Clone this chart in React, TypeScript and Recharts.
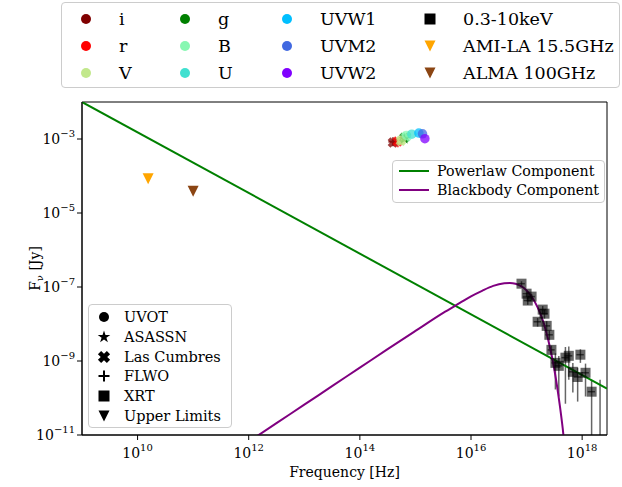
import React from "react";
import {
  ComposedChart,
  Line,
  Scatter,
  XAxis,
  YAxis,
  ErrorBar,
  ReferenceArea,
} from "recharts";

const FONT = "'DejaVu Serif', 'Liberation Serif', serif";

// axis ranges and ticks
const X_DOMAIN: [number, number] = [1e9, 2.8e18];
const Y_DOMAIN: [number, number] = [1e-11, 1e-2];
const X_TICKS = [1e10, 1e12, 1e14, 1e16, 1e18];
const Y_TICKS = [1e-11, 1e-9, 1e-7, 1e-5, 1e-3];

// photometric bands
const BANDS = ["i", "r", "V", "g", "B", "U", "UVW1", "UVM2", "UVW2"];
const BAND_COLORS = [
  "#800000", "#ff0000", "#c2e88c", "#008000", "#88f7b2",
  "#40e0d0", "#00bfff", "#4169e1", "#8000ff",
];

// Las Cumbres
const LCO_BANDS = ["i", "r", "V", "g", "B"];
const LCO_NU = [3.93e14, 4.8e14, 5.45e14, 6.3e14, 6.8e14];
const LCO_FLUX = [8.0e-4, 8.6e-4, 8.9e-4, 1.08e-3, 1.15e-3];

// FLWO
const FLWO_BANDS = ["i", "r"];
const FLWO_NU = [3.93e14, 4.8e14];
const FLWO_FLUX = [8.4e-4, 7.9e-4];

// ASASSN
const ASASSN_BANDS = ["g"];
const ASASSN_NU = [6.3e14];
const ASASSN_FLUX = [1.0e-3];

// Swift UVOT
const UVOT_BANDS = ["V", "B", "U", "UVW1", "UVM2", "UVW2"];
const UVOT_NU = [5.55e14, 6.9e14, 8.6e14, 1.15e15, 1.34e15, 1.48e15];
const UVOT_FLUX = [9.2e-4, 1.25e-3, 1.35e-3, 1.45e-3, 1.38e-3, 1.02e-3];

// Swift XRT 0.3-10 keV
const XRT_NU = [
  8.1e16, 1.0e17, 1.23e17, 1.05e17, 1.95e17, 2.1e17, 1.58e17, 2.3e17, 2.57e17, 2.8e17,
  3.3e17, 3.8e17, 5.0e17, 5.75e17, 9.3e17, 6.8e17, 8.3e17, 1.15e18, 1.48e18, 2.1e18,
];
const XRT_NU_ERR = [
  1.2e16, 1.5e16, 1.8e16, 1.6e16, 3e16, 3e16, 2.4e16, 3.5e16, 4e16, 4e16,
  5e16, 6e16, 7.5e16, 9e16, 1.4e17, 1e17, 1.2e17, 1.7e17, 2.2e17, 0,
];
const XRT_FLUX = [
  1.23e-7, 6.6e-8, 5.5e-8, 4.3e-8, 2.45e-8, 1.9e-8, 1.15e-8, 8.9e-9, 5.1e-9, 2.0e-9,
  8.9e-10, 7.4e-10, 1.23e-9, 1.38e-9, 1.48e-9, 5.1e-10, 3.7e-10, 4.8e-10, 1.48e-10, 6e-12,
];
const XRT_FLUX_ERR = [
  2e-8, 1.2e-8, 1e-8, 1e-8, 6e-9, 5e-9, 3e-9, 3e-9, 1.5e-9, 6e-10,
  7.2e-10, 6.3e-10, 1.16e-9, 1.07e-9, 5.9e-10, 3.7e-10, 2.9e-10, 3.7e-10, 1.6e-10, 3.05e-10,
];

// radio upper limits
const AMI_NU = [1.55e10];
const AMI_FLUX = [8.4e-5];
const ALMA_NU = [1e11];
const ALMA_FLUX = [3.85e-5];

// model components
const PL_NU = [1e9, 2.8e18];
const PL_FLUX = [1.0e-2, 1.8e-10];
const BB_NU = [
  1e12, 3.16e12, 1e13, 3.16e13, 1e14, 3.16e14, 1e15, 3.16e15, 6.3e15, 1e16, 1.58e16, 2.51e16,
  3.98e16, 5.0e16, 6.3e16, 1e17, 1.58e17, 2.0e17, 2.51e17, 3.16e17, 3.98e17, 4.47e17, 5.0e17,
];
const BB_FLUX = [
  6.6e-12, 2.09e-11, 6.6e-11, 2.09e-10, 6.6e-10, 2.09e-9, 6.5e-9, 2.0e-8, 3.7e-8, 5.6e-8, 7.9e-8,
  1.07e-7, 1.26e-7, 1.29e-7, 1.23e-7, 8.1e-8, 2.8e-8, 1.15e-8, 3.2e-9, 5.9e-10, 6.0e-11, 1.5e-11,
  3.1e-12,
];

const bandColor = (b: string) => BAND_COLORS[BANDS.indexOf(b)];
const phot = (bands: string[], nu: number[], flux: number[]) =>
  bands.map((b, i) => ({ nu: nu[i], f: flux[i], color: bandColor(b) }));

const lcoData = phot(LCO_BANDS, LCO_NU, LCO_FLUX);
const flwoData = phot(FLWO_BANDS, FLWO_NU, FLWO_FLUX);
const asassnData = phot(ASASSN_BANDS, ASASSN_NU, ASASSN_FLUX);
const uvotData = phot(UVOT_BANDS, UVOT_NU, UVOT_FLUX);

const xrtData = XRT_NU.map((nu, i) => {
  const f = XRT_FLUX[i];
  const lo = Math.max(f - XRT_FLUX_ERR[i], Y_DOMAIN[0]);
  return {
    nu,
    f,
    color: "#000",
    yErr: [f - lo, XRT_FLUX_ERR[i]],
    xErr: [XRT_NU_ERR[i], XRT_NU_ERR[i]],
  };
});

const amiData = AMI_NU.map((nu, i) => ({ nu, f: AMI_FLUX[i], color: "#ffa500" }));
const almaData = ALMA_NU.map((nu, i) => ({ nu, f: ALMA_FLUX[i], color: "#8b4513" }));
const plData = PL_NU.map((nu, i) => ({ nu, f: PL_FLUX[i] }));
const bbData = BB_NU.map((nu, i) => ({ nu, f: BB_FLUX[i] }));

type Kind = "circle" | "star" | "x" | "plus" | "square" | "tri";

function Marker({ kind, cx, cy, color, size, alpha = 1 }: any) {
  const h = size / 2;
  const paint = { fill: color, fillOpacity: alpha, stroke: "none" };
  if (kind === "circle") return <circle cx={cx} cy={cy} r={h} {...paint} />;
  if (kind === "square")
    return <rect x={cx - h} y={cy - h} width={size} height={size} {...paint} />;
  if (kind === "tri")
    return (
      <polygon
        points={`${cx - h},${cy - h} ${cx + h},${cy - h} ${cx},${cy + h}`}
        {...paint}
      />
    );
  if (kind === "plus")
    return (
      <path
        d={`M${cx - h},${cy}H${cx + h}M${cx},${cy - h}V${cy + h}`}
        stroke={color}
        strokeOpacity={alpha}
        strokeWidth={2}
        fill="none"
      />
    );
  if (kind === "star") {
    const R = h * 1.2;
    const r = R * 0.382;
    const pts = [];
    for (let k = 0; k < 10; k++) {
      const a = ((-90 + k * 36) * Math.PI) / 180;
      const rr = k % 2 === 0 ? R : r;
      pts.push(`${cx + rr * Math.cos(a)},${cy + rr * Math.sin(a)}`);
    }
    return <polygon points={pts.join(" ")} {...paint} />;
  }
  // filled X
  const L = h * 1.15;
  const w = L * 0.36;
  const plus = [
    [-w, -L], [w, -L], [w, -w], [L, -w], [L, w], [w, w],
    [w, L], [-w, L], [-w, w], [-L, w], [-L, -w], [-w, -w],
  ];
  const pts = plus.map(([px, py]) => {
    const rx = (px - py) / Math.SQRT2;
    const ry = (px + py) / Math.SQRT2;
    return `${cx + rx},${cy + ry}`;
  });
  return <polygon points={pts.join(" ")} {...paint} />;
}

const shapeOf = (kind: Kind, size: number, alpha: number) => (p: any) => (
  <Marker
    kind={kind}
    cx={p.cx}
    cy={p.cy}
    color={(p.payload && p.payload.color) || p.color}
    size={size}
    alpha={alpha}
  />
);

const expText = (v: number) => {
  const e = Math.round(Math.log10(v));
  return e < 0 ? "\u2212" + Math.abs(e) : String(e);
};

const XTick = (props: any) => {
  const { x, y, payload } = props;
  return (
    <text x={x} y={y + 16} textAnchor="middle" fontFamily={FONT} fontSize={14} fill="#000">
      10
      <tspan dy={-7} fontSize={10}>
        {expText(payload.value)}
      </tspan>
    </text>
  );
};

const YTick = (props: any) => {
  const { x, y, payload } = props;
  return (
    <text x={x} y={y + 5} textAnchor="end" fontFamily={FONT} fontSize={14} fill="#000">
      10
      <tspan dy={-7} fontSize={10}>
        {expText(payload.value)}
      </tspan>
    </text>
  );
};

const XLabel = (props: any) => {
  const vb = props.viewBox;
  return (
    <text
      x={vb.x + vb.width / 2}
      y={vb.y + 42}
      textAnchor="middle"
      fontFamily={FONT}
      fontSize={14}
      fill="#000"
    >
      Frequency [Hz]
    </text>
  );
};

const YLabel = (props: any) => {
  const vb = props.viewBox;
  const cx = vb.x + 40;
  const cy = vb.y + vb.height / 2;
  return (
    <text
      transform={`translate(${cx},${cy}) rotate(-90)`}
      textAnchor="middle"
      fontFamily={FONT}
      fontSize={14}
      fill="#000"
    >
      F
      <tspan dy={3} fontSize={10}>
        ν
      </tspan>
      <tspan dy={-3}> [Jy]</tspan>
    </text>
  );
};

// legends
const TOP_LEGEND = [
  ...BANDS.map((b, i) => ({ label: b, kind: "circle" as Kind, color: BAND_COLORS[i] })),
  { label: "0.3-10keV", kind: "square" as Kind, color: "#000" },
  { label: "AMI-LA 15.5GHz", kind: "tri" as Kind, color: "#ffa500" },
  { label: "ALMA 100GHz", kind: "tri" as Kind, color: "#8b4513" },
];
const SHAPE_LEGEND: [string, Kind][] = [
  ["UVOT", "circle"],
  ["ASASSN", "star"],
  ["Las Cumbres", "x"],
  ["FLWO", "plus"],
  ["XRT", "square"],
  ["Upper Limits", "tri"],
];
const MODEL_LEGEND = [
  { label: "Powerlaw Component", color: "#008000" },
  { label: "Blackbody Component", color: "#800080" },
];

const boxStyle: React.CSSProperties = {
  position: "absolute",
  border: "1px solid #cccccc",
  borderRadius: 4,
  background: "rgba(255,255,255,0.8)",
  fontFamily: FONT,
  color: "#000",
  boxSizing: "border-box",
};

const MarkerIcon = ({ kind, color, size }: any) => (
  <svg width={16} height={16} style={{ position: "absolute", left: -8, top: -8 }}>
    <Marker kind={kind} cx={8} cy={8} color={color} size={size} />
  </svg>
);

const TopLegend = () => {
  const markerX = [24, 123, 225, 368];
  const textX = [57, 156, 258, 401];
  const rowY = [16, 43, 70];
  return (
    <div style={{ ...boxStyle, left: 61, top: 2, width: 559, height: 86, fontSize: 17.5 }}>
      {TOP_LEGEND.map((e, k) => {
        const col = Math.floor(k / 3);
        const row = k % 3;
        return (
          <React.Fragment key={e.label}>
            <div style={{ position: "absolute", left: markerX[col], top: rowY[row] }}>
              <MarkerIcon kind={e.kind} color={e.color} size={e.kind === "circle" ? 10 : 11} />
            </div>
            <div
              style={{
                position: "absolute",
                left: textX[col],
                top: rowY[row] - 11,
                lineHeight: "22px",
                whiteSpace: "nowrap",
              }}
            >
              {e.label}
            </div>
          </React.Fragment>
        );
      })}
    </div>
  );
};

const ShapeLegend = () => (
  <div style={{ ...boxStyle, left: 88, top: 304, width: 144, height: 124, fontSize: 14.5 }}>
    {SHAPE_LEGEND.map(([label, kind], k) => (
      <React.Fragment key={label}>
        <div style={{ position: "absolute", left: 15, top: 12 + k * 19.8 }}>
          <MarkerIcon kind={kind} color="#000" size={kind === "circle" ? 10 : 11} />
        </div>
        <div
          style={{
            position: "absolute",
            left: 35,
            top: 12 + k * 19.8 - 9,
            lineHeight: "18px",
            whiteSpace: "nowrap",
          }}
        >
          {label}
        </div>
      </React.Fragment>
    ))}
  </div>
);

const ModelLegend = () => (
  <div style={{ ...boxStyle, left: 392, top: 160, width: 213, height: 43, fontSize: 14.2 }}>
    {MODEL_LEGEND.map((e, k) => (
      <React.Fragment key={e.label}>
        <div
          style={{
            position: "absolute",
            left: 6,
            top: 10 + k * 18.6 - 1,
            width: 30,
            height: 2,
            background: e.color,
          }}
        />
        <div
          style={{
            position: "absolute",
            left: 44,
            top: 10 + k * 18.6 - 9,
            lineHeight: "18px",
            whiteSpace: "nowrap",
          }}
        >
          {e.label}
        </div>
      </React.Fragment>
    ))}
  </div>
);

export default function App() {
  return (
    <div style={{ position: "relative", width: 622, height: 487, background: "#fff" }}>
      <style>{"body{margin:0}"}</style>
      <ComposedChart
        width={622}
        height={487}
        margin={{ top: 102, right: 15, bottom: 0, left: 0 }}
      >
        <XAxis
          dataKey="nu"
          type="number"
          scale="log"
          domain={X_DOMAIN}
          allowDataOverflow
          ticks={X_TICKS}
          interval={0}
          height={52}
          tickSize={5}
          stroke="#000"
          tick={<XTick />}
          label={<XLabel />}
        />
        <YAxis
          dataKey="f"
          type="number"
          scale="log"
          domain={Y_DOMAIN}
          allowDataOverflow
          ticks={Y_TICKS}
          interval={0}
          width={82}
          tickSize={5}
          stroke="#000"
          tick={<YTick />}
          label={<YLabel />}
        />
        <ReferenceArea
          x1={X_DOMAIN[0]}
          x2={X_DOMAIN[1]}
          y1={Y_DOMAIN[0]}
          y2={Y_DOMAIN[1]}
          fill="none"
          fillOpacity={0}
          stroke="#000"
          strokeWidth={1}
        />
        <Scatter data={amiData} shape={shapeOf("tri", 11, 1)} isAnimationActive={false} />
        <Scatter data={almaData} shape={shapeOf("tri", 11, 1)} isAnimationActive={false} />
        <Scatter data={xrtData} shape={shapeOf("square", 10, 0.6)} isAnimationActive={false}>
          <ErrorBar dataKey="yErr" direction="y" width={0} stroke="#000" strokeOpacity={0.6} strokeWidth={1.5} />
          <ErrorBar dataKey="xErr" direction="x" width={0} stroke="#000" strokeOpacity={0.6} strokeWidth={1.5} />
        </Scatter>
        <Scatter data={flwoData} shape={shapeOf("plus", 9, 0.75)} isAnimationActive={false} />
        <Scatter data={lcoData} shape={shapeOf("x", 9.5, 0.75)} isAnimationActive={false} />
        <Scatter data={asassnData} shape={shapeOf("star", 10, 0.75)} isAnimationActive={false} />
        <Scatter data={uvotData} shape={shapeOf("circle", 9.5, 0.75)} isAnimationActive={false} />
        <Line
          data={plData}
          dataKey="f"
          stroke="#008000"
          strokeWidth={2}
          dot={false}
          isAnimationActive={false}
        />
        <Line
          data={bbData}
          dataKey="f"
          type="monotone"
          stroke="#800080"
          strokeWidth={2}
          dot={false}
          isAnimationActive={false}
        />
      </ComposedChart>
      <TopLegend />
      <ShapeLegend />
      <ModelLegend />
    </div>
  );
}
